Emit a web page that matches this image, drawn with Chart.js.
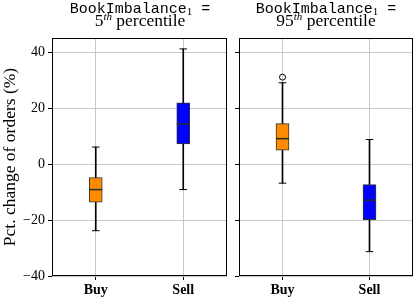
<!DOCTYPE html>
<html>
<head>
<meta charset="utf-8">
<script src="https://cdn.jsdelivr.net/npm/chart.js@4/dist/chart.umd.min.js"></script>
<style>
  body { margin: 0; background: #fff; width: 415px; height: 297px; position: relative; overflow: hidden; }
  .pane { position: absolute; top: 0; }
  .ttl { position: absolute; width: 220px; text-align: center; color: #000; line-height: 1; white-space: nowrap; }
  .mono { font-family: "Liberation Mono", monospace; font-size: 15px; top: 2px; }
  .serif { font-family: "Liberation Serif", serif; font-size: 17.5px; top: 12px; }
  .ttl sub { font-family: "Liberation Serif", serif; font-size: 11px; vertical-align: -2px; line-height: 0; }
  .ttl sup { font-size: 11px; font-style: italic; vertical-align: 6px; line-height: 0; }
</style>
</head>
<body>
<div class="pane" style="left:0"><canvas id="c5" width="230" height="297"></canvas></div>
<div class="pane" style="left:230px"><canvas id="c95" width="185" height="297"></canvas></div>
<div class="ttl mono" style="left:30px">BookImbalance<sub>1</sub> =</div>
<div class="ttl serif" style="left:30px">5<sup>th</sup> percentile</div>
<div class="ttl mono" style="left:216px">BookImbalance<sub>1</sub> =</div>
<div class="ttl serif" style="left:216px">95<sup>th</sup> percentile</div>
<script>
var categories = ['Buy', 'Sell'];
var boxColors = ['#ff8c00', '#0000ff'];
var yTicks = [-40, -20, 0, 20, 40];

// BookImbalance_1 = 5th percentile
var p5Low = [-23.8, -9.1];
var p5Q1 = [-13.6, 7.2];
var p5Median = [-9.1, 14.4];
var p5Q3 = [-4.8, 21.9];
var p5High = [6.1, 41.2];
var p5Outliers = [null, null];

// BookImbalance_1 = 95th percentile
var p95Low = [-6.8, -31.3];
var p95Q1 = [5.0, -19.9];
var p95Median = [9.1, -12.9];
var p95Q3 = [14.5, -7.3];
var p95High = [29.1, 8.8];
var p95Outliers = [31.1, null];

var serif = 'Liberation Serif';

var framePlugin = {
  id: 'frame',
  afterDraw: function (chart) {
    var a = chart.chartArea, ctx = chart.ctx;
    ctx.save();
    ctx.strokeStyle = '#000';
    ctx.lineWidth = 1;
    ctx.strokeRect(Math.round(a.left) + 0.5, Math.round(a.top) + 0.5,
      Math.round(a.right - a.left) - 1, Math.round(a.bottom - a.top) - 1);
    ctx.restore();
  }
};

function pairs(a, b) {
  return a.map(function (v, i) { return [v, b[i]]; });
}

function makeBoxChart(id, low, q1, med, q3, high, outliers, first) {
  var marks = function (data, style, r, w, color) {
    return {
      type: 'line', data: data, showLine: false, pointStyle: style,
      pointRadius: r, pointHoverRadius: r, borderWidth: w, borderColor: color,
      pointBackgroundColor: 'rgba(0,0,0,0)', order: 0
    };
  };
  return new Chart(document.getElementById(id), {
    type: 'bar',
    data: {
      labels: categories,
      datasets: [
        { data: pairs(low, high), backgroundColor: '#000', barThickness: 1, grouped: false, order: 3 },
        { data: pairs(q1, q3), backgroundColor: boxColors, borderColor: '#333', borderWidth: 1,
          borderSkipped: false, barThickness: 13, grouped: false, order: 1 },
        marks(low, 'line', 3.8, 1, '#000'),
        marks(high, 'line', 3.8, 1, '#000'),
        marks(med, 'line', 6.5, 1.5, '#2a2a2a'),
        marks(outliers, 'circle', 3, 1, '#000')
      ]
    },
    options: {
      responsive: false,
      animation: false,
      events: [],
      layout: { autoPadding: false, padding: { top: 38, bottom: 0, left: 0, right: first ? 3 : 2 } },
      plugins: { legend: { display: false }, tooltip: { enabled: false } },
      scales: {
        x: {
          offset: true,
          grid: { color: '#c8c8c8', offset: false, tickLength: 4, tickColor: '#000' },
          border: { display: false },
          ticks: { color: '#000', padding: 2, font: { family: serif, size: 14, weight: 'bold' } },
          afterFit: function (s) { s.height = 21; s.paddingLeft = 0; s.paddingRight = 0; }
        },
        y: {
          min: -40, max: 45.1,
          grid: { color: '#c8c8c8', tickLength: 4, tickColor: '#000' },
          border: { display: false },
          afterBuildTicks: function (s) {
            s.ticks = yTicks.map(function (v) { return { value: v }; });
          },
          ticks: {
            display: first, color: '#000', padding: 3,
            font: { family: serif, size: 14 },
            callback: function (v) { return String(v).replace('-', '\u2212'); }
          },
          title: {
            display: first, text: 'Pct. change of orders (%)', color: '#000',
            padding: { top: 0, bottom: 1 },
            font: { family: serif, size: 17.5 }
          },
          afterFit: function (s) { s.width = first ? 52 : 9; }
        }
      }
    },
    plugins: [framePlugin]
  });
}

makeBoxChart('c5', p5Low, p5Q1, p5Median, p5Q3, p5High, p5Outliers, true);
makeBoxChart('c95', p95Low, p95Q1, p95Median, p95Q3, p95High, p95Outliers, false);
</script>
</body>
</html>
